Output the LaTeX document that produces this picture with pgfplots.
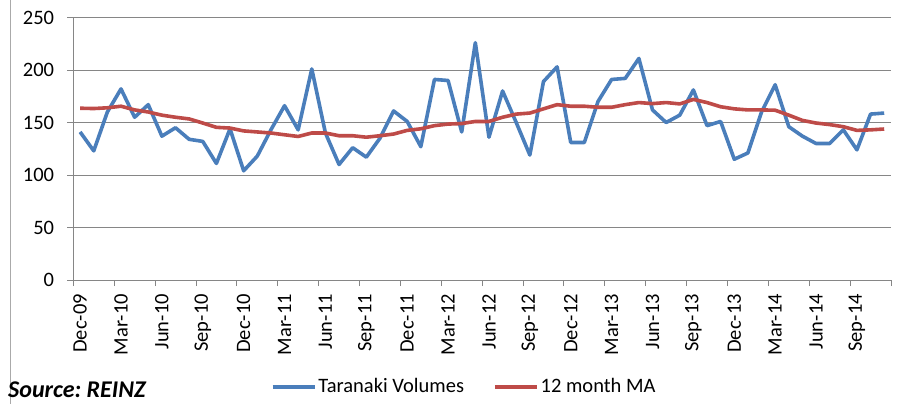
\documentclass[border=0pt]{standalone}
\usepackage{pgfplots}
\pgfplotsset{compat=1.18}
\usepackage{fontspec}
\setmainfont{Carlito}
\definecolor{exblue}{HTML}{4A7EBB}
\definecolor{exred}{HTML}{BE4B48}
\definecolor{gridgray}{HTML}{868686}
\begin{document}
\frenchspacing
\fontsize{20.5bp}{24bp}\selectfont
\begin{tikzpicture}
\path[use as bounding box] (-73.3bp,-124bp) rectangle (825.7bp,280bp);
\draw[gridgray!70, line width=0.8bp] (-63.3bp,-124bp) -- (-63.3bp,280bp);
\begin{axis}[
  at={(0,0)}, anchor=south west,
  scale only axis, width=817.7bp, height=262.5bp,
  xmin=-0.5, xmax=59.5, ymin=0, ymax=250,
  axis x line=bottom, axis y line=left,
  axis line style={gridgray, line width=0.9bp, -},
  ytick={0,50,...,250},
  ymajorgrids, grid style={gridgray, line width=0.9bp},
  xtick={-0.5,2.5,...,59.5}, xticklabels={},
  extra x ticks={0,3,...,57},
  extra x tick labels={Dec-09,Mar-10,Jun-10,Sep-10,Dec-10,Mar-11,Jun-11,Sep-11,Dec-11,Mar-12,Jun-12,Sep-12,Dec-12,Mar-13,Jun-13,Sep-13,Dec-13,Mar-14,Jun-14,Sep-14},
  extra x tick style={major tick length=0pt, xticklabel style={rotate=90, anchor=east, inner sep=0pt, yshift=0bp, xshift=-14bp}},
  tick align=outside, major tick length=6bp,
  tick style={gridgray, line width=0.9bp},
  yticklabel style={inner sep=0pt, xshift=-13bp, anchor=east},
  /pgf/number format/assume math mode=true,
  ticklabel style={font=\fontsize{20.5bp}{24bp}\selectfont},
  legend style={at={(0.478,-0.4065)}, anchor=center, draw=none, fill=none,
    legend columns=2, font=\fontsize{20.5bp}{24bp}\selectfont,
    /tikz/every even column/.append style={column sep=27bp},
    inner sep=0pt, cells={anchor=west}},
  legend image code/.code={\draw[#1] (0bp,0bp) -- (42bp,0bp);},
  clip=false,
]
\addplot[exblue, line width=3.6bp, line join=round] coordinates {
(0,141)(1,123)(2,160)(3,182)(4,155)(5,167)(6,137)(7,145)(8,134)(9,132)
(10,111)(11,144)(12,104)(13,118)(14,143)(15,166)(16,143)(17,201)(18,140)(19,110)
(20,126)(21,117)(22,135)(23,161)(24,151)(25,127)(26,191)(27,190)(28,141)(29,226)
(30,136)(31,180)(32,150)(33,119)(34,189)(35,203)(36,131)(37,131)(38,170)(39,191)
(40,192)(41,211)(42,162)(43,150)(44,157)(45,181)(46,147)(47,151)(48,115)(49,121)
(50,160)(51,186)(52,146)(53,137)(54,130)(55,130)(56,143)(57,124)(58,158)(59,159)
};
\addlegendentry{Taranaki Volumes}
\addplot[exred, line width=3.6bp, line join=round] coordinates {
(0,163.6)(1,163.3)(2,164)(3,165.5)(4,162)(5,160)(6,157)(7,155)(8,153.4)(9,149.5)
(10,145.4)(11,144.7)(12,142)(13,141)(14,140)(15,138.3)(16,136.7)(17,140)(18,140)(19,137.4)
(20,137.4)(21,136)(22,137.4)(23,139)(24,142.5)(25,144)(26,147)(27,148.5)(28,149)(29,151)
(30,151)(31,155)(32,158)(33,159)(34,163)(35,167)(36,165.5)(37,165.5)(38,164.5)(39,164.5)
(40,167)(41,169)(42,168)(43,169)(44,167.7)(45,172)(46,169)(47,165)(48,163)(49,162)
(50,162)(51,161.7)(52,157)(53,152)(54,149.5)(55,148)(56,146)(57,142.5)(58,143)(59,143.8)
};
\addlegendentry{12 month MA}
\end{axis}
\node[anchor=base west, inner sep=0pt, font=\fontsize{24bp}{28bp}\selectfont\bfseries\itshape] at (-65.3bp,-117.5bp) {Source: REINZ};
\end{tikzpicture}
\end{document}
